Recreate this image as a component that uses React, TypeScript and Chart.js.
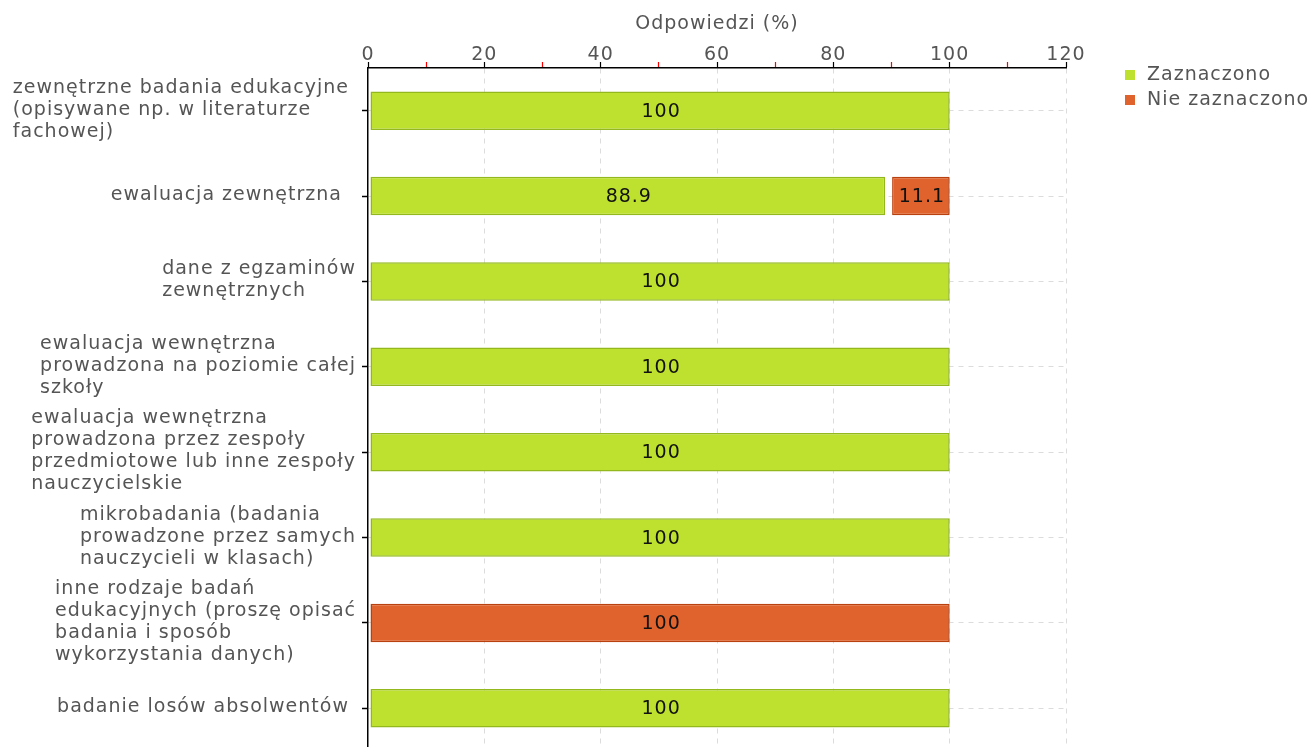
import { useEffect, useRef } from "react";
import { Chart, registerables } from "chart.js";

Chart.register(...registerables);

const categories: string[][] = [
  ["zewnętrzne badania edukacyjne ", "(opisywane np. w literaturze", "fachowej)"],
  ["ewaluacja zewnętrzna  "],
  ["dane z egzaminów", "zewnętrznych"],
  ["ewaluacja wewnętrzna", "prowadzona na poziomie całej", "szkoły"],
  ["ewaluacja wewnętrzna", "prowadzona przez zespoły", "przedmiotowe lub inne zespoły", "nauczycielskie"],
  ["mikrobadania (badania", "prowadzone przez samych", "nauczycieli w klasach)"],
  ["inne rodzaje badań", "edukacyjnych (proszę opisać", "badania i sposób", "wykorzystania danych)"],
  ["badanie losów absolwentów "],
];

const zaznaczono = [100, 88.9, 100, 100, 100, 100, 0, 100];
const nieZaznaczono = [0, 11.1, 0, 0, 0, 0, 100, 0];

const seriesNames = ["Zaznaczono", "Nie zaznaczono"];
const axisTitle = "Odpowiedzi (%)";
const xMin = 0;
const xMax = 120;
const xStep = 10;

const FONT = "'DejaVu Sans', Verdana, sans-serif";
const TEXT = "#555555";
const GREEN = "#bde12e";
const GREEN_BORDER = "#93b81d";
const ORANGE = "#e0632e";
const ORANGE_BORDER = "#b9400f";

const spacing = {
  id: "spacing",
  beforeUpdate(chart: any) {
    chart.ctx.letterSpacing = "1px";
  },
  beforeDraw(chart: any) {
    chart.ctx.letterSpacing = "1px";
  },
};

// small gap between stacked segments, like the original
const segmentGap = {
  id: "segmentGap",
  afterDatasetsUpdate(chart: any) {
    const zero = chart.scales.x.getPixelForValue(0);
    chart.data.datasets.forEach((_ds: any, i: number) => {
      const meta = chart.getDatasetMeta(i);
      meta.data.forEach((el: any) => {
        if (el.base > zero + 1) el.base += 7;
        else el.base += 2;
      });
    });
  },
};

const valueLabels = {
  id: "valueLabels",
  afterDatasetsDraw(chart: any) {
    const ctx = chart.ctx;
    ctx.save();
    ctx.letterSpacing = "1px";
    ctx.font = `19px ${FONT}`;
    ctx.fillStyle = "#111111";
    ctx.textAlign = "center";
    ctx.textBaseline = "middle";
    chart.data.datasets.forEach((ds: any, i: number) => {
      const meta = chart.getDatasetMeta(i);
      meta.data.forEach((el: any, j: number) => {
        const v = ds.data[j];
        if (v == null) return;
        ctx.fillText(String(v), (el.x + el.base) / 2 + 1, el.y + 1);
      });
    });
    ctx.restore();
  },
};

// category labels: each block left-aligned, block right edge next to the axis
const categoryLabels = {
  id: "categoryLabels",
  afterDraw(chart: any) {
    const ctx = chart.ctx;
    const yScale = chart.scales.y;
    const right = chart.chartArea.left - 12;
    const lh = 22;
    ctx.save();
    ctx.letterSpacing = "1px";
    ctx.font = `19px ${FONT}`;
    ctx.fillStyle = TEXT;
    ctx.textAlign = "left";
    ctx.textBaseline = "middle";
    categories.forEach((lines, i) => {
      const w = Math.max(...lines.map((l) => ctx.measureText(l).width));
      const cy = yScale.getPixelForValue(i) - 1;
      const top = cy - ((lines.length - 1) * lh) / 2;
      lines.forEach((l, k) => ctx.fillText(l, right - w, top + k * lh));
    });
    ctx.restore();
  },
};

const legendBox = {
  id: "legendBox",
  afterDraw(chart: any) {
    const ctx = chart.ctx;
    const x = chart.chartArea.right + 59;
    ctx.save();
    ctx.letterSpacing = "1px";
    ctx.font = `19px ${FONT}`;
    ctx.textAlign = "left";
    ctx.textBaseline = "middle";
    chart.data.datasets.forEach((ds: any, i: number) => {
      const y = 75 + i * 25;
      ctx.fillStyle = ds.backgroundColor;
      ctx.fillRect(x, y - 5, 10, 10);
      ctx.fillStyle = TEXT;
      ctx.fillText(ds.label, x + 22, y);
    });
    ctx.restore();
  },
};

export default function App() {
  const canvasRef = useRef<HTMLCanvasElement>(null);
  const chartRef = useRef<Chart | null>(null);

  useEffect(() => {
    if (!canvasRef.current) return;
    if (chartRef.current) chartRef.current.destroy();
    const ctx = canvasRef.current.getContext("2d");
    if (!ctx) return;

    chartRef.current = new Chart(ctx, {
      type: "bar",
      data: {
        labels: categories,
        datasets: [
          {
            label: seriesNames[0],
            data: zaznaczono.map((v) => (v ? v : null)),
            backgroundColor: GREEN,
            borderColor: GREEN_BORDER,
            borderWidth: 1.5,
            borderSkipped: false,
            barPercentage: 0.9,
            categoryPercentage: 0.5,
          },
          {
            label: seriesNames[1],
            data: nieZaznaczono.map((v) => (v ? v : null)),
            backgroundColor: ORANGE,
            borderColor: ORANGE_BORDER,
            borderWidth: 1.5,
            borderSkipped: false,
            barPercentage: 0.9,
            categoryPercentage: 0.5,
          },
        ],
      },
      options: {
        indexAxis: "y",
        responsive: true,
        maintainAspectRatio: false,
        animation: false,
        events: [],
        layout: { padding: { left: 0, top: 0, right: 244, bottom: 0 } },
        plugins: {
          legend: { display: false },
          tooltip: { enabled: false },
        },
        scales: {
          x: {
            position: "top",
            stacked: true,
            min: xMin,
            max: xMax,
            afterFit: (scale: any) => {
              scale.height = 68;
            },
            ticks: {
              stepSize: xStep,
              autoSkip: false,
              maxRotation: 0,
              padding: -4,
              color: TEXT,
              font: { family: FONT, size: 19 },
              callback: (value: any) => (Number(value) % 20 === 0 ? String(value) : ""),
            },
            title: {
              display: true,
              text: axisTitle,
              color: TEXT,
              font: { family: FONT, size: 19 },
              padding: { top: 13, bottom: 0 },
            },
            grid: {
              color: (c: any) => (c.tick && c.tick.value % 20 === 0 && c.tick.value !== 0 ? "#dcdcdc" : "rgba(0,0,0,0)"),
              tickColor: (c: any) => (c.tick && c.tick.value % 20 === 0 ? "#000000" : "#ff0000"),
              tickLength: 6,
              tickWidth: 1.2,
              tickBorderDash: [],
              lineWidth: 1,
            },
            border: { color: "#000000", width: 1.5, dash: [5, 5] },
          },
          y: {
            position: "left",
            stacked: true,
            afterFit: (scale: any) => {
              scale.width = 368;
            },
            ticks: { display: false, autoSkip: false },
            grid: {
              offset: false,
              color: "#dcdcdc",
              tickColor: "#000000",
              tickLength: 6,
              tickWidth: 1.5,
              tickBorderDash: [],
              lineWidth: 1,
            },
            border: { color: "#000000", width: 1.5, dash: [5, 5] },
          },
        },
      },
      plugins: [spacing, segmentGap, valueLabels, categoryLabels, legendBox],
    });

    return () => {
      if (chartRef.current) chartRef.current.destroy();
      chartRef.current = null;
    };
  }, []);

  return (
    <div style={{ position: "fixed", left: 0, top: 0, width: 1310, height: 747, overflow: "hidden", background: "#ffffff" }}>
      <div style={{ position: "relative", width: 1310, height: 751 }}>
        <canvas ref={canvasRef} />
      </div>
    </div>
  );
}
